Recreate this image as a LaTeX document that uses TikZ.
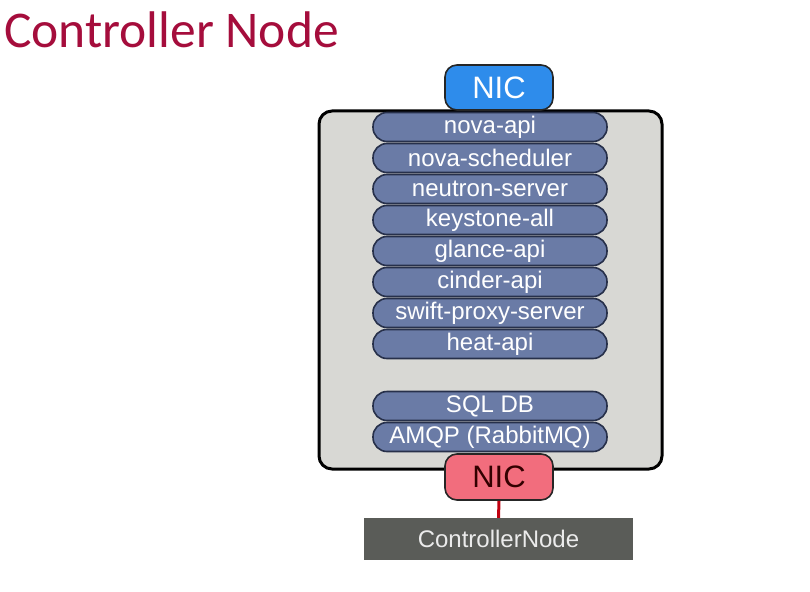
\documentclass[tikz,border=0pt]{standalone}
\usepackage{fontspec}
\setmainfont{Liberation Sans}
\newfontfamily\titlefont{Carlito}
\definecolor{titlered}{HTML}{A50D3C}
\definecolor{nicblue}{HTML}{2E8CEB}
\definecolor{nicred}{HTML}{F26D7D}
\definecolor{pillblue}{HTML}{6A7BA6}
\definecolor{pillborder}{HTML}{27304A}
\definecolor{boxgray}{HTML}{D8D8D4}
\definecolor{ctrlgray}{HTML}{5A5C58}
\definecolor{linkred}{HTML}{C00010}
\tikzset{
  pill/.style={draw=pillborder, line width=1.6pt, fill=pillblue, rounded corners=14pt,
    minimum width=234pt, minimum height=29pt, inner sep=0pt, text=white, font=\fontsize{24}{24}\selectfont},
  nicbox/.style={draw=black!85, line width=1.6pt, rounded corners=12pt,
    minimum width=108pt, minimum height=45pt, inner sep=0pt, font=\fontsize{31}{31}\selectfont},
  hostbox/.style={draw=black, line width=3pt, fill=boxgray, rounded corners=13pt,
    minimum width=343pt, minimum height=358pt, inner sep=0pt},
  ctrlbox/.style={fill=ctrlgray, minimum width=269pt, minimum height=42pt, inner sep=0pt,
    text=white!92!black, font=\fontsize{24}{24}\selectfont}
}
\begin{document}
\begin{tikzpicture}[x=1pt,y=-1pt]
\useasboundingbox[fill=white] (0,0) rectangle (810,591);
\node[anchor=base west, text=titlered, font=\titlefont\fontsize{51.5}{51.5}\selectfont, inner sep=0pt] (title) at (4,48) {Controller Node};
\node[hostbox] (host) at (490.5,290) {};
\node[pill] (p1) at (490,127) {nova-api};
\node[pill] (p2) at (490,158) {nova-scheduler};
\node[pill] (p3) at (490,189) {neutron-server};
\node[pill] (p4) at (490,220) {keystone-all};
\node[pill] (p5) at (490,251) {glance-api};
\node[pill] (p6) at (490,282) {cinder-api};
\node[pill] (p7) at (490,313) {swift-proxy-server};
\node[pill] (p8) at (490,344) {heat-api};
\node[pill] (p9) at (490,406) {SQL DB};
\node[pill] (p10) at (490,437) {AMQP (RabbitMQ)};
\node[nicbox, fill=nicblue, text=white] (nic1) at (499,87.5) {NIC};
\node[ctrlbox] (ctrl) at (498.5,539) {ControllerNode};
\node[nicbox, fill=nicred, text=black!80!red, minimum height=46pt] (nic2) at (499,477) {NIC};
\draw[linkred, line width=3pt] (nic2.south) -- (ctrl.north);
\end{tikzpicture}
\end{document}
